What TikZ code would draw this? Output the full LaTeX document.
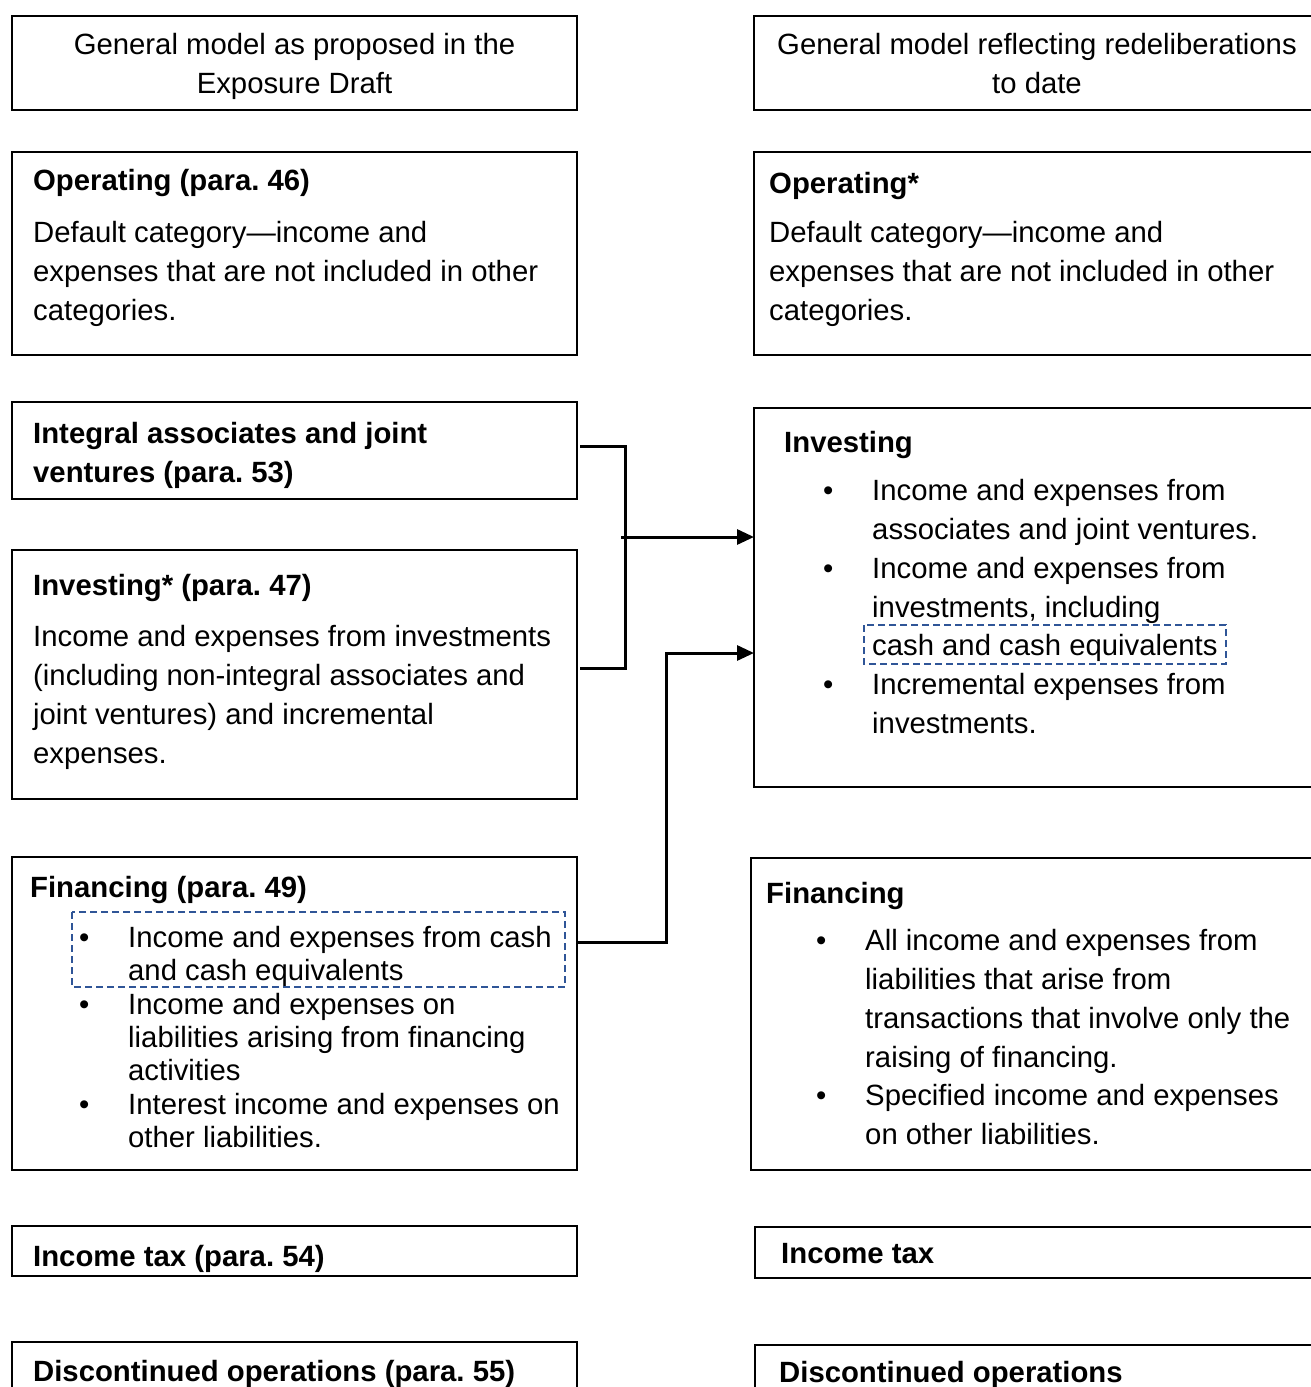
\documentclass[tikz,border=0pt]{standalone}
\usepackage{fontspec}
\setmainfont{Liberation Sans}
\usetikzlibrary{arrows.meta}
\definecolor{dashblue}{RGB}{47,85,151}
\frenchspacing
\begin{document}
\begin{tikzpicture}[x=1pt,y=1pt,
  box/.style={draw, line width=2pt, anchor=north west, inner sep=0pt, outer sep=0pt},
  tx/.style={anchor=base west, inner sep=0pt, font=\fontsize{29.3}{39}\selectfont},
  txc/.style={anchor=base, inner sep=0pt, font=\fontsize{29.3}{39}\selectfont},
  hd/.style={anchor=base west, inner sep=0pt, font=\fontsize{29.3}{39}\selectfont\bfseries},
  dbox/.style={draw=dashblue, line width=1.8pt, dash pattern=on 7pt off 4pt},
  conn/.style={line width=3pt},
  arr/.style={line width=3pt, -{Triangle[length=17pt,width=15pt]}}
]
\useasboundingbox (0,0) rectangle (1311,-1387);

% ---------- left column ----------
\node[box, minimum width=565pt, minimum height=94pt] (L0) at (12,-16) {};
\node[txc] (L0a) at (294.5,-54) {General model as proposed in the};
\node[txc] (L0b) at (294.5,-93) {Exposure Draft};

\node[box, minimum width=565pt, minimum height=203pt] (L1) at (12,-152) {};
\node[hd] (L1h) at (33,-190) {Operating (para. 46)};
\node[tx] (L1a) at (33,-242) {Default category—income and};
\node[tx] (L1b) at (33,-281) {expenses that are not included in other};
\node[tx] (L1c) at (33,-320) {categories.};

\node[box, minimum width=565pt, minimum height=97pt] (L2) at (12,-402) {};
\node[hd] (L2a) at (33,-443) {Integral associates and joint};
\node[hd] (L2b) at (33,-482) {ventures (para. 53)};

\node[box, minimum width=565pt, minimum height=249pt] (L3) at (12,-550) {};
\node[hd] (L3h) at (33,-595) {Investing* (para. 47)};
\node[tx] (L3a) at (33,-646) {Income and expenses from investments};
\node[tx] (L3b) at (33,-685) {(including non-integral associates and};
\node[tx] (L3c) at (33,-724) {joint ventures) and incremental};
\node[tx] (L3d) at (33,-763) {expenses.};

\node[box, minimum width=565pt, minimum height=313pt] (L4) at (12,-857) {};
\node[hd] (L4h) at (30,-897) {Financing (para. 49)};
\node[tx] (L4b1) at (79,-947) {•};
\node[tx] (L4a) at (128,-947) {Income and expenses from cash};
\node[tx] (L4b) at (128,-980) {and cash equivalents};
\node[tx] (L4b2) at (79,-1014) {•};
\node[tx] (L4c) at (128,-1014) {Income and expenses on};
\node[tx] (L4d) at (128,-1047) {liabilities arising from financing};
\node[tx] (L4e) at (128,-1080) {activities};
\node[tx] (L4b3) at (79,-1114) {•};
\node[tx] (L4f) at (128,-1114) {Interest income and expenses on};
\node[tx] (L4g) at (128,-1147) {other liabilities.};
\draw[dbox] (72,-912) rectangle (565,-987);

\node[box, minimum width=565pt, minimum height=50pt] (L5) at (12,-1226) {};
\node[hd] (L5a) at (33,-1266) {Income tax (para. 54)};

\node[box, minimum width=565pt, minimum height=100pt] (L6) at (12,-1342) {};
\node[hd] (L6a) at (33,-1381) {Discontinued operations (para. 55)};

% ---------- right column ----------
\node[box, minimum width=566pt, minimum height=94pt] (R0) at (754,-16) {};
\node[txc] (R0a) at (1037,-54) {General model reflecting redeliberations};
\node[txc] (R0b) at (1037,-93) {to date};

\node[box, minimum width=566pt, minimum height=203pt] (R1) at (754,-152) {};
\node[hd] (R1h) at (769,-193) {Operating*};
\node[tx] (R1a) at (769,-242) {Default category—income and};
\node[tx] (R1b) at (769,-281) {expenses that are not included in other};
\node[tx] (R1c) at (769,-320) {categories.};

\node[box, minimum width=566pt, minimum height=379pt] (R2) at (754,-408) {};
\node[hd] (R2h) at (784,-452) {Investing};
\node[tx] (R2b1) at (823,-500) {•};
\node[tx] (R2a) at (872,-500) {Income and expenses from};
\node[tx] (R2b) at (872,-539) {associates and joint ventures.};
\node[tx] (R2b2) at (823,-578) {•};
\node[tx] (R2c) at (872,-578) {Income and expenses from};
\node[tx] (R2d) at (872,-617) {investments, including};
\node[tx] (R2e) at (872,-655) {cash and cash equivalents};
\node[tx] (R2b3) at (823,-694) {•};
\node[tx] (R2f) at (872,-694) {Incremental expenses from};
\node[tx] (R2g) at (872,-733) {investments.};
\draw[dbox] (864,-625) rectangle (1226,-664);

\node[box, minimum width=569pt, minimum height=312pt] (R3) at (751,-858) {};
\node[hd] (R3h) at (766,-903) {Financing};
\node[tx] (R3b1) at (816,-950) {•};
\node[tx] (R3a) at (865,-950) {All income and expenses from};
\node[tx] (R3b) at (865,-989) {liabilities that arise from};
\node[tx] (R3c) at (865,-1028) {transactions that involve only the};
\node[tx] (R3d) at (865,-1067) {raising of financing.};
\node[tx] (R3b2) at (816,-1105) {•};
\node[tx] (R3e) at (865,-1105) {Specified income and expenses};
\node[tx] (R3f) at (865,-1144) {on other liabilities.};

\node[box, minimum width=565pt, minimum height=51pt] (R4) at (755,-1227) {};
\node[hd] (R4a) at (781,-1263) {Income tax};

\node[box, minimum width=565pt, minimum height=100pt] (R5) at (755,-1345) {};
\node[hd] (R5a) at (779,-1382) {Discontinued operations};

% ---------- connectors ----------
\coordinate (jtop) at (625,-446);
\coordinate (jbot) at (625,-668);
\coordinate (jmid) at (621,-537);
\coordinate (fk) at (666,-942);
\coordinate (fin) at (666,-653);
\draw[conn] ([xshift=3pt]L2.east |- jtop) -- (jtop) -- (jbot) -- ([xshift=3pt]L3.east |- jbot);
\draw[arr] (jmid) -- (R2.west |- jmid);
\draw[arr, line join=miter] (L4.east |- fk) -- (fk) -- (fin) -- (R2.west |- fin);
\end{tikzpicture}
\end{document}
